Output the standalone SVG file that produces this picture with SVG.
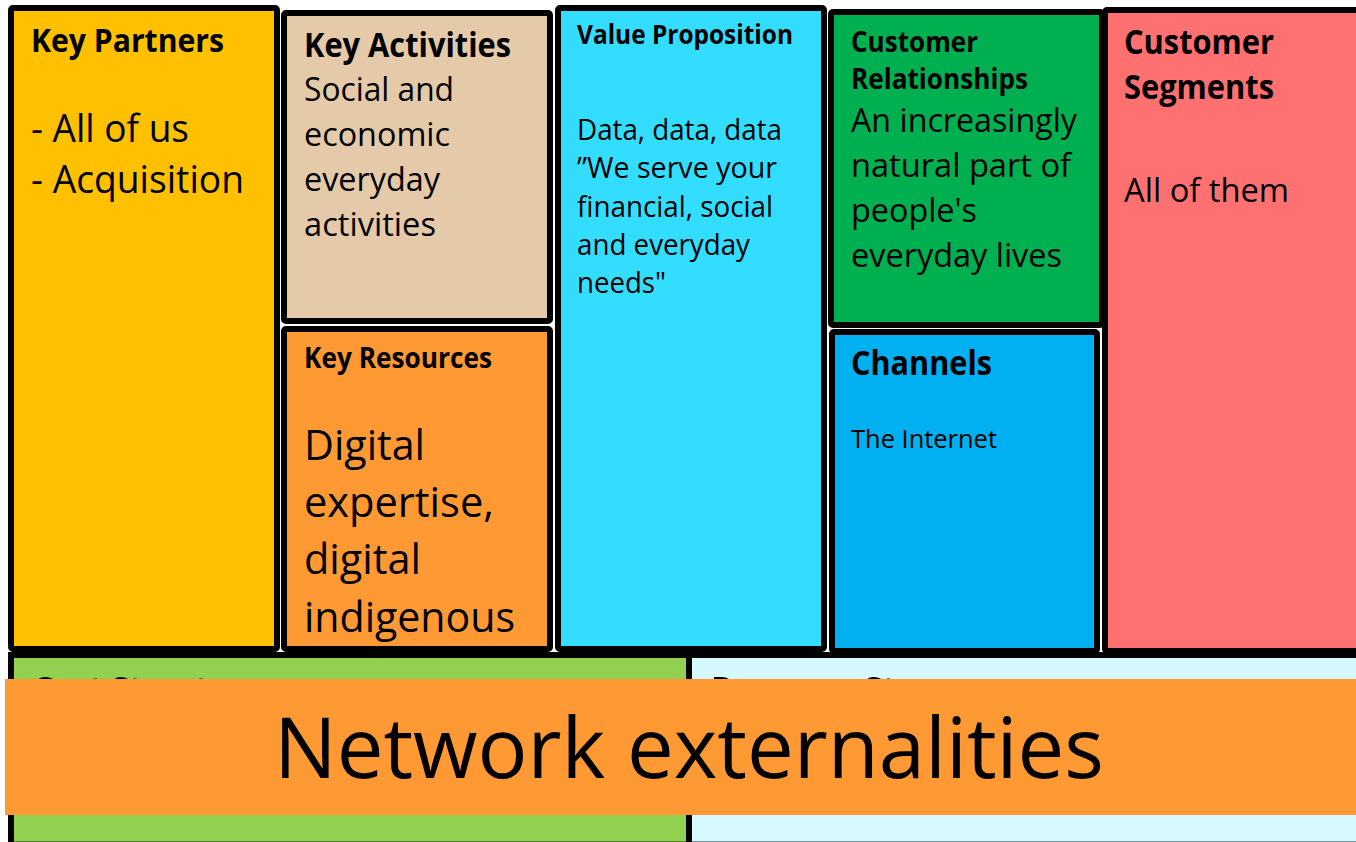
<svg xmlns="http://www.w3.org/2000/svg" width="1356" height="842" viewBox="0 0 1356 842">
  <style>
    .box { stroke: #000; stroke-width: 6; }
    text { font-family: "Open Sans", "Liberation Sans", sans-serif; fill: #000; }
    .b { font-weight: bold; }
  </style>
  <rect x="0" y="0" width="1356" height="842" fill="#fff"/>

  <!-- Business model canvas cells -->
  <g id="key-partners">
    <rect class="box" x="11" y="8" width="266" height="641" rx="2" fill="#FFC000"/>
    <text class="b" x="31" y="52" font-size="33" textLength="193" lengthAdjust="spacingAndGlyphs">Key Partners</text>
    <text x="31" y="141.5" font-size="38" textLength="158" lengthAdjust="spacingAndGlyphs">- All of us</text>
    <text x="31" y="192.7" font-size="38" textLength="213" lengthAdjust="spacingAndGlyphs">- Acquisition</text>
  </g>

  <g id="key-activities">
    <rect class="box" x="284" y="13" width="266" height="308" rx="2" fill="#E5CAA9"/>
    <text class="b" x="304" y="56.7" font-size="33.4" textLength="207" lengthAdjust="spacingAndGlyphs">Key Activities</text>
    <text x="304" y="100.5" font-size="33.4" textLength="150" lengthAdjust="spacingAndGlyphs">Social and</text>
    <text x="304" y="145.7" font-size="33.4" textLength="146" lengthAdjust="spacingAndGlyphs">economic</text>
    <text x="304" y="190.7" font-size="33.4" textLength="136" lengthAdjust="spacingAndGlyphs">everyday</text>
    <text x="304" y="235.7" font-size="33.4" textLength="132" lengthAdjust="spacingAndGlyphs">activities</text>
  </g>

  <g id="key-resources">
    <rect class="box" x="284" y="329" width="266" height="320" rx="2" fill="#FF9933"/>
    <text class="b" x="304" y="368" font-size="28.4" textLength="188" lengthAdjust="spacingAndGlyphs">Key Resources</text>
    <text x="304" y="459.5" font-size="42.4" textLength="121" lengthAdjust="spacingAndGlyphs">Digital</text>
    <text x="304" y="517" font-size="42.4" textLength="190" lengthAdjust="spacingAndGlyphs">expertise,</text>
    <text x="304" y="574" font-size="42.4" textLength="117" lengthAdjust="spacingAndGlyphs">digital</text>
    <text x="304" y="632" font-size="42.4" textLength="211" lengthAdjust="spacingAndGlyphs">indigenous</text>
  </g>

  <g id="value-proposition">
    <rect class="box" x="558" y="8" width="266" height="641" rx="2" fill="#33DDFF"/>
    <text class="b" x="577" y="44" font-size="26.2" textLength="216" lengthAdjust="spacingAndGlyphs">Value Proposition</text>
    <text x="577" y="139.5" font-size="28.3" textLength="205" lengthAdjust="spacingAndGlyphs">Data, data, data</text>
    <text x="577" y="178" font-size="28.3" textLength="200" lengthAdjust="spacingAndGlyphs">”We serve your</text>
    <text x="577" y="216.5" font-size="28.3" textLength="196" lengthAdjust="spacingAndGlyphs">financial, social</text>
    <text x="577" y="255" font-size="28.3" textLength="173" lengthAdjust="spacingAndGlyphs">and everyday</text>
    <text x="577" y="293" font-size="28.3" textLength="89" lengthAdjust="spacingAndGlyphs">needs"</text>
  </g>

  <g id="customer-relationships">
    <rect class="box" x="831" y="12" width="271" height="313" rx="2" fill="#00B050"/>
    <text class="b" x="851" y="51.5" font-size="28.5" textLength="127" lengthAdjust="spacingAndGlyphs">Customer</text>
    <text class="b" x="851" y="89" font-size="28.5" textLength="177" lengthAdjust="spacingAndGlyphs">Relationships</text>
    <text x="851" y="132" font-size="33.1" textLength="226" lengthAdjust="spacingAndGlyphs">An increasingly</text>
    <text x="851" y="176.7" font-size="33.1" textLength="220" lengthAdjust="spacingAndGlyphs">natural part of</text>
    <text x="851" y="221.5" font-size="33.1" textLength="126" lengthAdjust="spacingAndGlyphs">people's</text>
    <text x="851" y="266.5" font-size="33.1" textLength="211" lengthAdjust="spacingAndGlyphs">everyday lives</text>
  </g>

  <g id="channels">
    <rect class="box" x="832" y="332" width="265" height="319" rx="2" fill="#00B0F0"/>
    <text class="b" x="851" y="375" font-size="33.6" textLength="141" lengthAdjust="spacingAndGlyphs">Channels</text>
    <text x="851" y="448" font-size="26.2" textLength="146" lengthAdjust="spacingAndGlyphs">The Internet</text>
  </g>

  <g id="customer-segments">
    <rect class="box" x="1105" y="10" width="260" height="641" rx="2" fill="#FF7171"/>
    <text class="b" x="1124" y="54" font-size="33.6" textLength="150" lengthAdjust="spacingAndGlyphs">Customer</text>
    <text class="b" x="1124" y="98.5" font-size="33.6" textLength="150" lengthAdjust="spacingAndGlyphs">Segments</text>
    <text x="1124" y="201.5" font-size="33.2" textLength="165" lengthAdjust="spacingAndGlyphs">All of them</text>
  </g>

  <g id="cost-structure">
    <rect class="box" x="11" y="655" width="678" height="200" fill="#92D050"/>
    <line x1="14" y1="841.5" x2="686" y2="841.5" stroke="#548235" stroke-width="1"/>
    <text class="b" x="33" y="700" font-size="33" textLength="230" lengthAdjust="spacingAndGlyphs">Cost Structure</text>
  </g>

  <g id="revenue-streams">
    <rect class="box" x="689" y="655" width="700" height="200" fill="#D6F8FF"/>
    <line x1="692" y1="841.5" x2="1356" y2="841.5" stroke="#7F8F99" stroke-width="1"/>
    <text class="b" x="711" y="700" font-size="33" textLength="290" lengthAdjust="spacingAndGlyphs">Revenue Streams</text>
  </g>

  <!-- Banner across the bottom row -->
  <g id="network-externalities">
    <rect x="5" y="679" width="1351" height="136" fill="#FF9933"/>
    <text x="274" y="778" font-size="85" textLength="830" lengthAdjust="spacingAndGlyphs">Network externalities</text>
  </g>
</svg>
